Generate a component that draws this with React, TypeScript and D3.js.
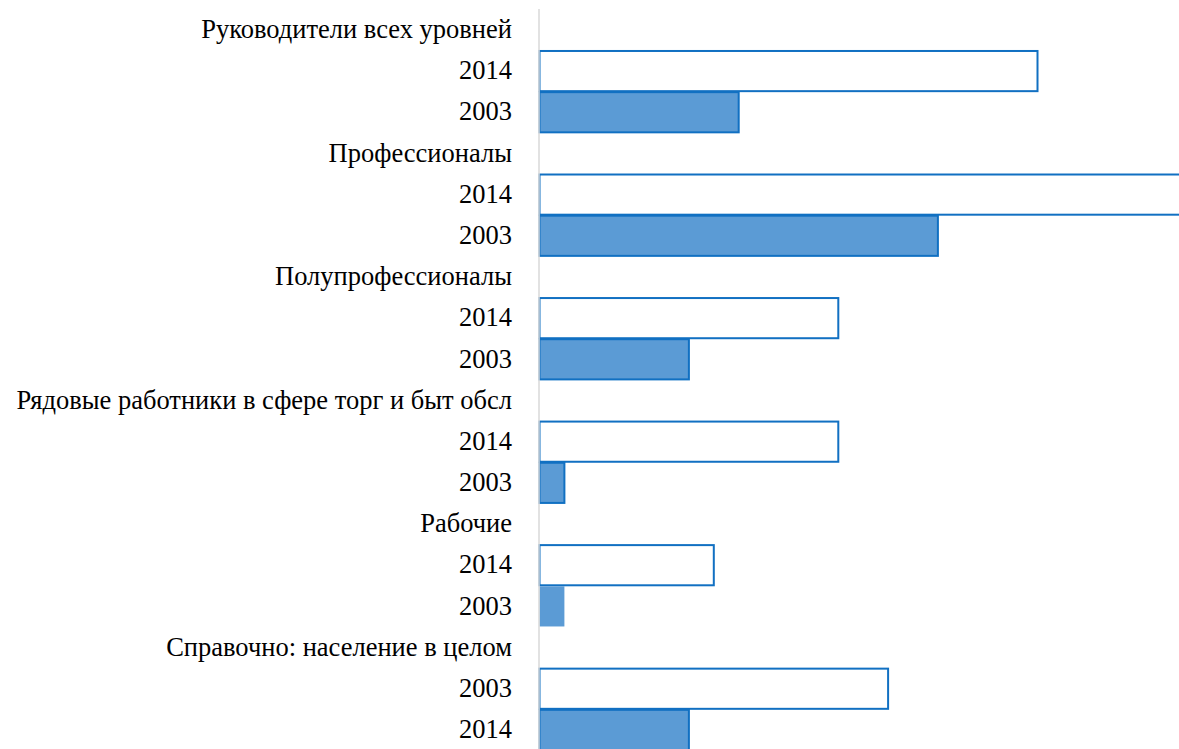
import React from "react";
import * as d3 from "d3";

const categories = [
  "Руководители всех уровней",
  "Профессионалы",
  "Полупрофессионалы",
  "Рядовые работники в сфере торг и быт обсл",
  "Рабочие",
  "Справочно: население в целом",
];
const firstLabels = ["2014", "2014", "2014", "2014", "2014", "2003"];
const secondLabels = ["2003", "2003", "2003", "2003", "2003", "2014"];
const firstValues = [20, 28, 12, 12, 7, 14];
const secondValues = [8, 16, 6, 1, 1, 6];
const secondStroked = [true, true, true, true, false, true];

const W = 1179;
const H = 749;

type Row = { key: string; label: string; kind: "head" | "first" | "second"; cat: number };

export default function App() {
  const rows: Row[] = [];
  categories.forEach((c, i) => {
    rows.push({ key: `h${i}`, label: c, kind: "head", cat: i });
    rows.push({ key: `a${i}`, label: firstLabels[i], kind: "first", cat: i });
    rows.push({ key: `b${i}`, label: secondLabels[i], kind: "second", cat: i });
  });
  const y = d3
    .scaleBand<string>()
    .domain(rows.map((r) => r.key))
    .range([8.8, 750])
    .padding(0);
  const x = d3.scaleLinear().domain([0, 20]).range([539.5, 1037.5]);
  const bw = y.bandwidth();
  const fill = "#5b9bd5";
  const stroke = "#1170c2";

  return (
    <svg
      width={W}
      height={H}
      style={{ position: "absolute", left: 0, top: 0, background: "#fff" }}
    >
      {rows.map((r) => {
        const y0 = y(r.key)!;
        const cy = y0 + bw / 2;
        return (
          <g key={r.key}>
            <text
              x={512}
              y={cy}
              dy="0.33em"
              textAnchor="end"
              style={{ fontFamily: "Liberation Serif", fontSize: 26.5 }}
              fill="#000"
            >
              {r.label}
            </text>
            {r.kind === "first" && (
              <rect
                x={x(0)}
                y={y0 + 1}
                width={x(firstValues[r.cat]) - x(0)}
                height={bw - 1}
                fill="#fff"
                stroke={stroke}
                strokeWidth={2}
              />
            )}
            {r.kind === "second" && (
              <rect
                x={x(0)}
                y={y0 + 1}
                width={x(secondValues[r.cat]) - x(0)}
                height={bw - 1}
                fill={fill}
                stroke={secondStroked[r.cat] ? stroke : "none"}
                strokeWidth={2}
              />
            )}
          </g>
        );
      })}
      <line x1={539} x2={539} y1={9} y2={H} stroke="#d9d9d9" strokeWidth={1.5} />
    </svg>
  );
}
